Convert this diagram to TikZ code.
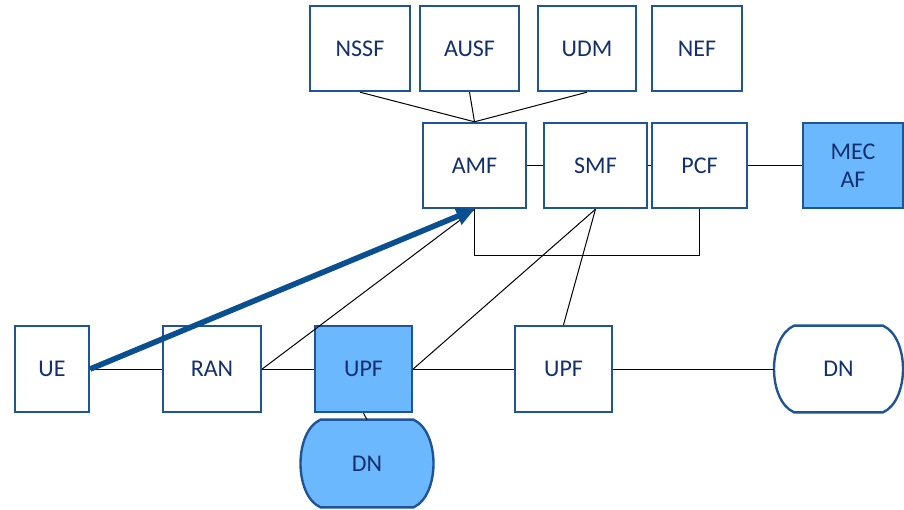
\documentclass[tikz,border=0pt]{standalone}
\usepackage{fontspec}
\setmainfont{Carlito}
\usetikzlibrary{arrows.meta,backgrounds}
\definecolor{nfline}{HTML}{1F5596}
\definecolor{nffill}{HTML}{6CB8FF}
\definecolor{nftext}{HTML}{13306C}
\definecolor{uearrow}{HTML}{0A5091}
\begin{document}
\begin{tikzpicture} [x=0.5pt,y=-0.5pt,font=\fontsize{12}{14}\selectfont,
		nf/.style={draw=nfline,line width=1.2pt,text=nftext,minimum height=42.5pt,inner sep=0pt,align=center},
		edgenf/.style={nf,fill=nffill},
		dn/.style={text=nftext,minimum height=43pt,inner sep=0pt},
		dnoutline/.style={draw=nfline,line width=1.2pt},
		link/.style={line width=0.5pt}]
		\useasboundingbox (0,0) rectangle (904,509);
		\node [nf,minimum width=50pt] (nssf) at (360,48.5) {NSSF};
		\node [nf,minimum width=49.5pt] (ausf) at (469.5,48.5) {AUSF};
		\node [nf,minimum width=49pt] (udm) at (587,48.5) {UDM};
		\node [nf,minimum width=45pt] (nef) at (697,48.5) {NEF};
		\node [nf,minimum width=51.5pt] (amf) at (474.5,165.5) {AMF};
		\node [nf,minimum width=51.5pt] (smf) at (595.5,165.5) {SMF};
		\node [nf,minimum width=47.5pt] (pcf) at (699.5,165.5) {PCF};
		\node [edgenf,minimum width=50pt] (mecaf) at (853,165.5) {MEC\\AF};
		\node [nf,minimum width=37pt,minimum height=43pt] (ue) at (52,369) {UE};
		\node [nf,minimum width=49pt,minimum height=43pt] (ran) at (212,369) {RAN};
		\node [edgenf,minimum width=48.5pt,minimum height=43pt] (upfedge) at (363.5,369) {UPF};
		\node [nf,minimum width=48.5pt,minimum height=43pt] (upfcore) at (563.5,369) {UPF};
		\node [dn,minimum width=64pt] (dncore) at (838.5,369) {DN};
		\node [dn,minimum width=66pt,minimum height=43.5pt] (dnedge) at (367,463.5) {DN};
		\begin{scope}[on background layer]
			\draw [dnoutline,fill=white] ([xshift=10pt]dncore.north west) -- ([xshift=-10pt]dncore.north east)
				.. controls ([xshift=3.4pt,yshift=-6pt]dncore.north east) and ([xshift=3.4pt,yshift=6pt]dncore.south east) .. ([xshift=-10pt]dncore.south east)
				-- ([xshift=10pt]dncore.south west)
				.. controls ([xshift=-3.4pt,yshift=6pt]dncore.south west) and ([xshift=-3.4pt,yshift=-6pt]dncore.north west) .. cycle;
			\draw [dnoutline,fill=nffill] ([xshift=10pt]dnedge.north west) -- ([xshift=-10pt]dnedge.north east)
				.. controls ([xshift=3.4pt,yshift=-6pt]dnedge.north east) and ([xshift=3.4pt,yshift=6pt]dnedge.south east) .. ([xshift=-10pt]dnedge.south east)
				-- ([xshift=10pt]dnedge.south west)
				.. controls ([xshift=-3.4pt,yshift=6pt]dnedge.south west) and ([xshift=-3.4pt,yshift=-6pt]dnedge.north west) .. cycle;
		\end{scope}
		\draw [link] (nssf.south) -- (amf.north);
		\draw [link] (ausf.south) -- (amf.north);
		\draw [link] (udm.south) -- (amf.north);
		\draw [link] (amf) -- (smf);
		\draw [link] (smf) -- (pcf);
		\draw [link] (pcf) -- (mecaf);
		\draw [link] (amf.south) -- ++(0,46) -| (pcf.south);
		\draw [link] (ue) -- (ran);
		\draw [link] (ran) -- (upfedge);
		\draw [link] (upfedge) -- (upfcore);
		\draw [link] (upfcore) -- (dncore.west);
		\draw [link] (upfedge.south) -- (dnedge.north);
		\draw [link] (ran.east) -- (amf.south);
		\draw [link] (upfedge.east) -- (smf.south);
		\draw [link] (upfcore.north) -- (smf.south);
		\draw [uearrow,line width=2.8pt,-{Triangle[length=9pt,width=9pt]}] (ue.east) -- (amf.south);
	\end{tikzpicture}
\end{document}
